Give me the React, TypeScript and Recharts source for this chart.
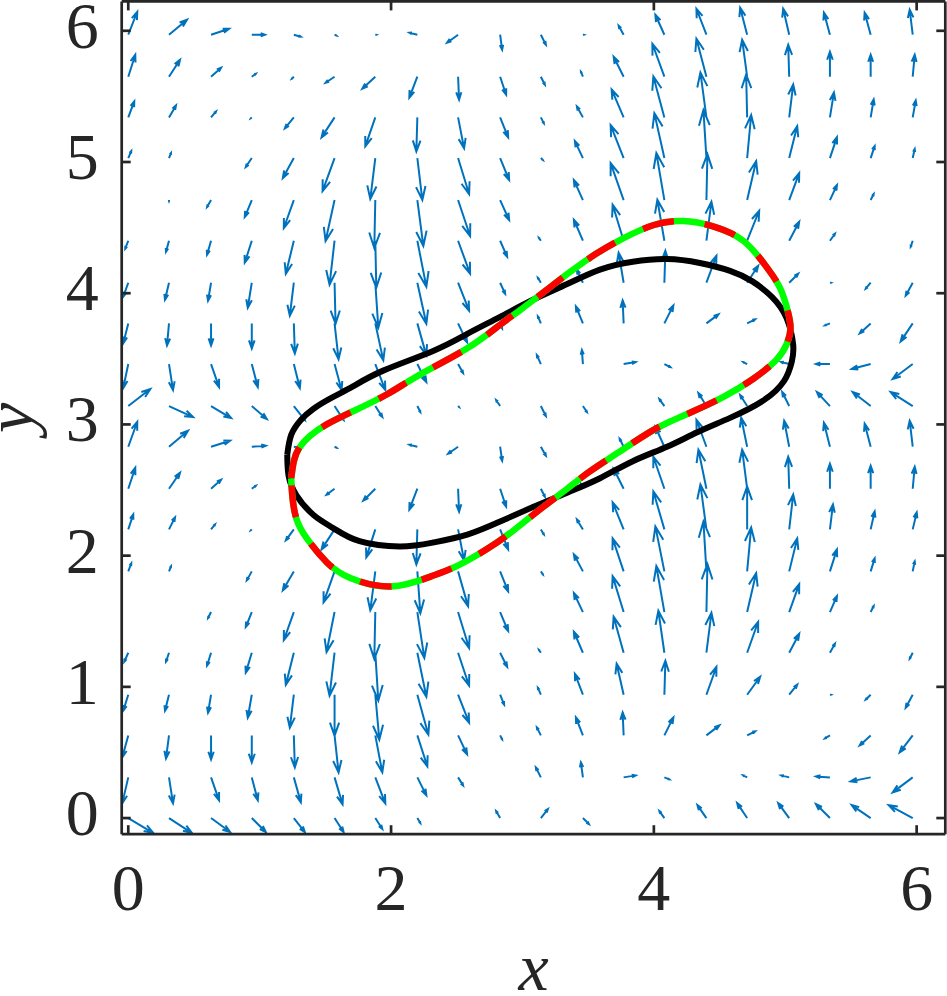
import React from "react";
import { ComposedChart, Line, XAxis, YAxis } from "recharts";

// quiver grid (multiples of pi/10)
const X_GRID = [0, 0.31, 0.63, 0.94, 1.26, 1.57, 1.88, 2.2, 2.51, 2.83, 3.14, 3.46, 3.77, 4.08, 4.4, 4.71, 5.03, 5.34, 5.65, 5.97];
const Y_GRID = [0, 0.31, 0.63, 0.94, 1.26, 1.57, 1.88, 2.2, 2.51, 2.83, 3.14, 3.46, 3.77, 4.08, 4.4, 4.71, 5.03, 5.34, 5.65, 5.97];

// velocity components, row 0 = bottom row
const U_ROWS = [
  [25, 23, 19, 14, 11, 9, 7, 3, 0, -4, 7, 6, 0, -5, -9, -10, -11, -14, -19, -24],
  [-6, 4, 8, 6, 7, 8, 10, 9, 5, 0, -5, -2, 12, 5, 0, -4, -8, -14, -20, -20],
  [-6, -3, 0, 0, 1, 4, 7, 10, 9, 2, -4, -7, -1, 9, 13, 8, 0, -5, -11, -13],
  [-5, -4, -3, -4, -4, 0, 4, 11, 11, 4, -3, -8, -7, 1, 10, 13, 8, 1, -5, -7],
  [-4, -3, -4, -6, -8, -5, 3, 9, 11, 7, -2, -9, -10, -6, 5, 11, 10, 5, 0, -3],
  [0, 0, -3, -6, -10, -8, -1, 7, 11, 8, 0, -9, -11, -8, 1, 9, 10, 7, 3, 0],
  [3, 2, 0, -5, -11, -11, -5, 3, 10, 8, 2, -9, -11, -9, -3, 4, 8, 7, 4, 2],
  [5, 6, 4, -1, -8, -13, -9, -1, 6, 8, 3, -6, -11, -11, -6, 0, 4, 3, 4, 4],
  [7, 11, 10, 4, -2, -8, -12, -8, 1, 6, 4, -2, -10, -11, -8, -5, -1, 0, 0, 2],
  [9, 19, 19, 14, 7, 2, 0, -8, -10, 2, 5, 0, -4, -9, -10, -6, -5, -6, -6, -3],
  [22, 24, 20, 15, 11, 9, 7, 3, 1, -4, 5, 4, 0, -5, -8, -7, -7, -13, -18, -22],
  [-5, 4, 8, 6, 6, 7, 10, 9, 5, 0, -4, -1, 12, 6, 0, -4, -8, -14, -19, -20],
  [-5, -2, 0, 0, 1, 4, 8, 9, 9, 2, -3, -7, -1, 9, 12, 8, 1, -5, -11, -12],
  [-5, -4, -3, -4, -4, 1, 3, 9, 11, 5, -3, -6, -5, 1, 10, 11, 9, 1, -5, -7],
  [-3, -3, -4, -7, -8, -5, 1, 9, 12, 7, -2, -9, -11, -7, 5, 12, 10, 5, 0, -2],
  [0, 0, -4, -7, -10, -9, -1, 6, 12, 9, 0, -9, -13, -8, 1, 9, 10, 7, 3, 0],
  [3, 2, 0, -6, -11, -12, -5, 5, 11, 9, 2, -8, -13, -10, -3, 4, 8, 7, 4, 2],
  [6, 7, 5, -1, -9, -13, -10, -1, 6, 8, 3, -6, -12, -11, -6, -1, 4, 4, 3, 3],
  [7, 11, 10, 4, -2, -9, -13, -8, 1, 6, 4, -2, -10, -12, -10, -5, -1, 0, 0, 2],
  [9, 18, 18, 13, 7, 2, 1, -8, -11, 2, 5, 1, -5, -9, -10, -7, -6, -6, -6, -3],
];
const V_ROWS = [
  [-15, -15, -14, -14, -14, -14, -11, -5, 0, 7, 9, -6, 0, 7, 13, 15, 15, 14, 13, 13],
  [-26, -26, -23, -23, -25, -27, -26, -18, -8, 0, 10, 15, 2, -2, 0, 2, 2, 1, -4, -15],
  [-22, -23, -24, -27, -32, -37, -37, -31, -19, -4, 8, 18, 23, 18, 10, 4, 0, -3, -10, -17],
  [-16, -16, -18, -23, -33, -41, -45, -40, -28, -10, 7, 21, 31, 34, 28, 18, 10, 0, -5, -13],
  [-9, -9, -13, -20, -32, -43, -48, -44, -33, -14, 3, 21, 36, 42, 40, 31, 19, 9, 0, -6],
  [0, 0, -6, -15, -28, -40, -47, -46, -36, -19, 0, 19, 36, 46, 48, 39, 28, 16, 6, 0],
  [8, 5, 0, -9, -19, -31, -39, -42, -35, -20, -3, 17, 33, 45, 50, 44, 33, 22, 13, 10],
  [15, 12, 5, -1, -11, -20, -28, -35, -31, -20, -5, 10, 27, 38, 45, 43, 35, 25, 18, 17],
  [21, 16, 9, 3, -2, -6, -12, -21, -23, -18, -8, 5, 20, 32, 39, 39, 32, 25, 23, 22],
  [25, 16, 6, 1, -1, -1, 0, 2, -7, -14, -9, 0, 8, 20, 27, 29, 26, 24, 23, 26],
  [17, -11, -12, -13, -14, -14, -11, -6, -1, 6, -10, -6, 0, 7, 13, 11, 14, 14, 14, 14],
  [-24, -26, -23, -23, -24, -26, -26, -18, -9, 0, 9, 14, 2, -3, 0, 2, 2, 0, -5, -15],
  [-20, -22, -22, -25, -30, -36, -37, -32, -19, -5, 7, 17, 23, 18, 9, 4, 0, -2, -10, -18],
  [-14, -17, -18, -25, -33, -41, -45, -41, -28, -11, 5, 13, 30, 32, 27, 17, 9, 0, -6, -13],
  [-8, -11, -14, -22, -33, -44, -47, -46, -33, -16, 3, 21, 36, 41, 39, 30, 19, 7, 0, -6],
  [0, -1, -7, -17, -28, -41, -48, -46, -36, -20, 0, 20, 37, 47, 46, 39, 27, 15, 6, 0],
  [7, 5, 0, -9, -20, -33, -41, -42, -36, -22, -2, 17, 33, 45, 48, 43, 32, 21, 12, 9],
  [16, 12, 6, -1, -11, -20, -29, -34, -31, -20, -6, 11, 28, 41, 45, 43, 33, 25, 18, 17],
  [22, 17, 9, 3, -2, -6, -12, -21, -23, -18, -8, 5, 20, 33, 38, 37, 32, 25, 22, 22],
  [23, 15, 6, 0, -2, -1, 0, 2, -8, -15, -10, 0, 9, 20, 26, 27, 26, 22, 22, 25],
];

// closed curves
const BLACK_X = [1.21, 1.24, 1.31, 1.41, 1.56, 1.71, 1.94, 2.32, 2.58, 2.83, 3.08, 3.34, 3.59, 3.84, 4.1, 4.35, 4.58, 4.75, 4.9, 5.01, 5.06, 5.05, 4.99, 4.83, 4.58, 4.33, 4.1, 3.84, 3.59, 3.34, 3.08, 2.83, 2.58, 2.32, 2.07, 1.76, 1.56, 1.41, 1.28, 1.22];
const BLACK_Y = [2.77, 2.92, 3.03, 3.12, 3.21, 3.29, 3.41, 3.56, 3.69, 3.82, 3.95, 4.07, 4.18, 4.24, 4.26, 4.23, 4.17, 4.09, 3.97, 3.81, 3.61, 3.48, 3.33, 3.18, 3.05, 2.94, 2.83, 2.72, 2.59, 2.48, 2.37, 2.26, 2.16, 2.1, 2.07, 2.11, 2.21, 2.31, 2.46, 2.61];

const GREEN_X = [1.24, 1.26, 1.3, 1.38, 1.51, 1.71, 1.97, 2.22, 2.58, 2.83, 2.98, 3.19, 3.36, 3.56, 3.77, 4.0, 4.22, 4.45, 4.68, 4.85, 4.96, 5.02, 5.04, 5.01, 4.93, 4.76, 4.53, 4.3, 4.12, 3.95, 3.72, 3.51, 3.34, 3.13, 2.93, 2.73, 2.5, 2.3, 2.0, 1.69, 1.51, 1.36, 1.28, 1.25];
const GREEN_Y = [2.59, 2.72, 2.82, 2.91, 3.0, 3.1, 3.23, 3.38, 3.58, 3.76, 3.87, 4.03, 4.16, 4.3, 4.42, 4.52, 4.55, 4.51, 4.4, 4.21, 4.04, 3.86, 3.73, 3.61, 3.49, 3.35, 3.21, 3.1, 3.02, 2.93, 2.78, 2.64, 2.51, 2.35, 2.19, 2.05, 1.92, 1.84, 1.765, 1.83, 1.95, 2.13, 2.28, 2.44];

const RED_X = [1.24, 1.26, 1.3, 1.38, 1.51, 1.71, 1.97, 2.22, 2.58, 2.83, 2.98, 3.19, 3.36, 3.56, 3.77, 4.0, 4.22, 4.45, 4.68, 4.85, 4.96, 5.02, 5.04, 5.01, 4.93, 4.76, 4.53, 4.3, 4.12, 3.95, 3.72, 3.51, 3.34, 3.13, 2.93, 2.73, 2.5, 2.3, 2.0, 1.69, 1.51, 1.36, 1.28, 1.25];
const RED_Y = [2.59, 2.72, 2.82, 2.91, 3.0, 3.1, 3.23, 3.38, 3.58, 3.76, 3.87, 4.03, 4.16, 4.3, 4.42, 4.52, 4.55, 4.51, 4.4, 4.21, 4.04, 3.86, 3.73, 3.61, 3.49, 3.35, 3.21, 3.1, 3.02, 2.93, 2.78, 2.64, 2.51, 2.35, 2.19, 2.05, 1.92, 1.84, 1.765, 1.83, 1.95, 2.13, 2.28, 2.44];

const X_TICKS = [0, 2, 4, 6];
const Y_TICKS = [0, 1, 2, 3, 4, 5, 6];

const X_DOMAIN = [-0.05, 6.218];
const Y_DOMAIN = [-0.123, 6.224];

const ARROW_SCALE = 1 / 131.3; // quiver autoscale
const HEAD_LEN = 0.32;
const HEAD_WIDTH = 0.35;

const AXIS_COLOR = "#262626";
const FONT = "'Liberation Serif', 'DejaVu Serif', serif";

const arrowData: { x: number; y: number | null }[] = [];
Y_GRID.forEach((gy, j) => {
  X_GRID.forEach((gx, i) => {
    const u = U_ROWS[j][i] * ARROW_SCALE;
    const v = V_ROWS[j][i] * ARROW_SCALE;
    if (u === 0 && v === 0) return;
    const hx = gx + u;
    const hy = gy + v;
    arrowData.push(
      { x: gx, y: gy },
      { x: hx, y: hy },
      { x: hx, y: null },
      { x: hx - HEAD_LEN * (u + HEAD_WIDTH * v), y: hy - HEAD_LEN * (v - HEAD_WIDTH * u) },
      { x: hx, y: hy },
      { x: hx - HEAD_LEN * (u - HEAD_WIDTH * v), y: hy - HEAD_LEN * (v + HEAD_WIDTH * u) },
      { x: hx, y: null }
    );
  });
});

const loop = (xs: number[], ys: number[]) => {
  const pts = xs.map((x, i) => ({ x, y: ys[i] }));
  pts.push({ x: xs[0], y: ys[0] });
  return pts;
};

const blackData = loop(BLACK_X, BLACK_Y);
const greenData = loop(GREEN_X, GREEN_Y);
const redData = loop(RED_X, RED_Y);

const TICK_LEN = 9;
const TICK_W = 2.7;

const BottomTick = (props: any) => {
  const { x, y, payload } = props;
  return (
    <g>
      <line x1={x} y1={y} x2={x} y2={y - TICK_LEN} stroke={AXIS_COLOR} strokeWidth={TICK_W} />
      <text x={x} y={y + 76} textAnchor="middle" fontFamily={FONT} fontSize={66} fill={AXIS_COLOR}>
        {payload.value}
      </text>
    </g>
  );
};

const TopTick = (props: any) => {
  const { x, y } = props;
  return <line x1={x} y1={y} x2={x} y2={y + TICK_LEN} stroke={AXIS_COLOR} strokeWidth={TICK_W} />;
};

const LeftTick = (props: any) => {
  const { x, y, payload } = props;
  return (
    <g>
      <line x1={x} y1={y} x2={x + TICK_LEN} y2={y} stroke={AXIS_COLOR} strokeWidth={TICK_W} />
      <text x={x - 23} y={y + 17} textAnchor="end" fontFamily={FONT} fontSize={66} fill={AXIS_COLOR}>
        {payload.value}
      </text>
    </g>
  );
};

const RightTick = (props: any) => {
  const { x, y } = props;
  return <line x1={x} y1={y} x2={x - TICK_LEN} y2={y} stroke={AXIS_COLOR} strokeWidth={TICK_W} />;
};

const XLabel = (props: any) => {
  const vb = props.viewBox;
  return (
    <text x={vb.x + vb.width / 2} y={vb.y + 156} textAnchor="middle" fontFamily={FONT} fontStyle="italic" fontSize={68} fill={AXIS_COLOR}>
      x
    </text>
  );
};

const YLabel = (props: any) => {
  const vb = props.viewBox;
  const cx = 33;
  const cy = vb.y + vb.height / 2;
  return (
    <text x={cx} y={cy} transform={`rotate(-90 ${cx} ${cy})`} textAnchor="middle" fontFamily={FONT} fontStyle="italic" fontSize={68} fill={AXIS_COLOR}>
      y
    </text>
  );
};

const axisLine = { stroke: AXIS_COLOR, strokeWidth: 2.7 };

export default function App() {
  return (
    <div style={{ position: "absolute", left: 0, top: 0, width: 947, height: 996, background: "#ffffff" }}>
      <ComposedChart width={947} height={996} margin={{ top: 0, right: 0, bottom: 0, left: 0 }}>
        <XAxis
          dataKey="x"
          type="number"
          domain={X_DOMAIN}
          allowDataOverflow
          ticks={X_TICKS}
          interval={0}
          tick={BottomTick}
          tickLine={false}
          tickSize={0}
          tickMargin={0}
          axisLine={axisLine}
          height={161.8}
          label={XLabel}
        />
        <XAxis
          xAxisId="top"
          orientation="top"
          dataKey="x"
          type="number"
          domain={X_DOMAIN}
          allowDataOverflow
          ticks={X_TICKS}
          interval={0}
          tick={TopTick}
          tickLine={false}
          tickSize={0}
          tickMargin={0}
          axisLine={axisLine}
          height={1.4}
        />
        <YAxis
          type="number"
          domain={Y_DOMAIN}
          allowDataOverflow
          ticks={Y_TICKS}
          interval={0}
          tick={LeftTick}
          tickLine={false}
          tickSize={0}
          tickMargin={0}
          axisLine={axisLine}
          width={121.7}
          label={YLabel}
        />
        <YAxis
          yAxisId="right"
          orientation="right"
          type="number"
          domain={Y_DOMAIN}
          allowDataOverflow
          ticks={Y_TICKS}
          interval={0}
          tick={RightTick}
          tickLine={false}
          tickSize={0}
          tickMargin={0}
          axisLine={axisLine}
          width={1.7}
        />
        <Line
          data={arrowData}
          dataKey="y"
          type="linear"
          stroke="#0072BD"
          strokeWidth={2}
          dot={false}
          activeDot={false}
          connectNulls={false}
          isAnimationActive={false}
        />
        <Line
          data={blackData}
          dataKey="y"
          type="natural"
          stroke="#000000"
          strokeWidth={6}
          dot={false}
          activeDot={false}
          isAnimationActive={false}
        />
        <Line
          data={greenData}
          dataKey="y"
          type="natural"
          stroke="#00ff00"
          strokeWidth={6.5}
          dot={false}
          activeDot={false}
          isAnimationActive={false}
        />
        <Line
          data={redData}
          dataKey="y"
          type="natural"
          stroke="#ff0000"
          strokeWidth={6.5}
          strokeDasharray="32 31"
          dot={false}
          activeDot={false}
          isAnimationActive={false}
        />
      </ComposedChart>
    </div>
  );
}
